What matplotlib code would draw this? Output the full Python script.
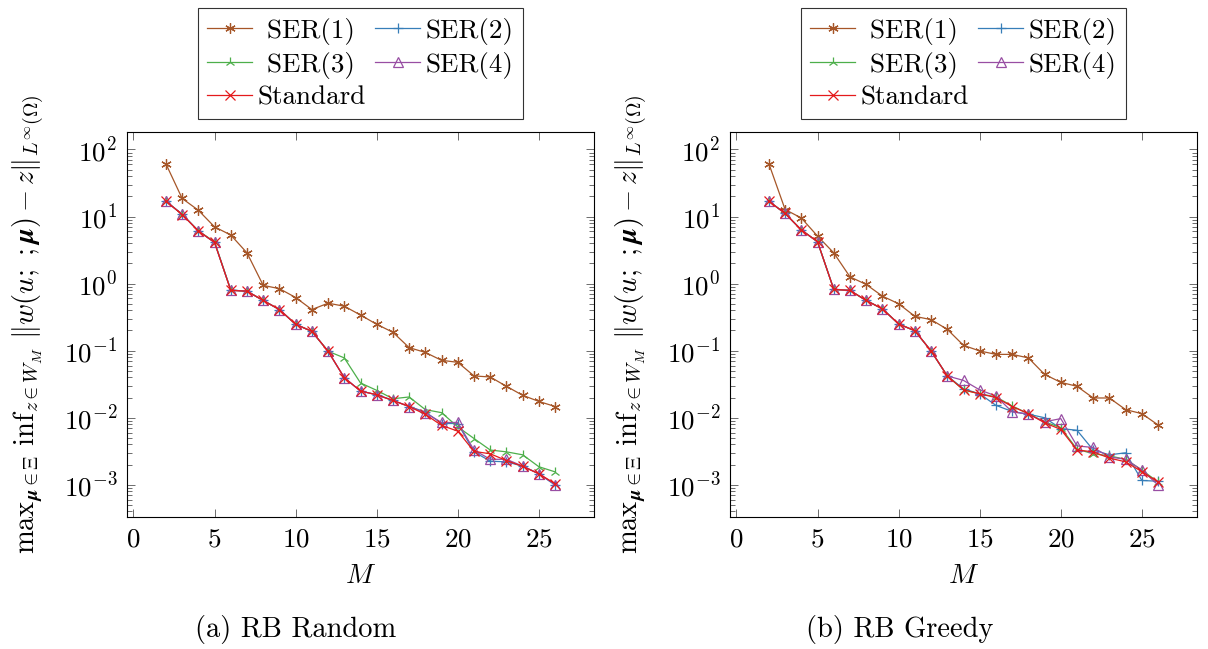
import numpy as np
import matplotlib
matplotlib.use("Agg")
import matplotlib.pyplot as plt
from matplotlib.ticker import LogLocator, NullFormatter

plt.rcParams["font.family"] = "cmr10"
plt.rcParams["mathtext.fontset"] = "cm"
plt.rcParams["axes.formatter.use_mathtext"] = True

M = list(range(2, 27))
LABELS = ["SER(1)", "SER(2)", "SER(3)", "SER(4)", "Standard"]

# (a) RB Random
rand_ser1 = [61, 18.6, 12.4, 7.0, 5.3, 2.87, 0.94, 0.84, 0.62, 0.41, 0.51, 0.46, 0.34,
             0.247, 0.188, 0.111, 0.094, 0.0718, 0.067, 0.042, 0.0405, 0.0294, 0.0216, 0.0175, 0.0147]
rand_ser2 = [16.9, 10.8, 6.1, 4.1, 0.80, 0.77, 0.56, 0.41, 0.247, 0.194, 0.098, 0.0395, 0.025,
             0.022, 0.0181, 0.0147, 0.0122, 0.0082, 0.0082, 0.0031, 0.00225, 0.0022, 0.0019, 0.00146, 0.00099]
rand_ser3 = [16.9, 10.8, 6.1, 4.2, 0.80, 0.77, 0.56, 0.41, 0.247, 0.194, 0.098, 0.078, 0.033,
             0.0256, 0.0192, 0.0204, 0.0132, 0.0119, 0.0073, 0.0049, 0.0033, 0.0031, 0.0028, 0.00186, 0.00156]
rand_ser4 = [16.9, 10.8, 6.1, 4.1, 0.80, 0.77, 0.56, 0.41, 0.247, 0.194, 0.098, 0.0395, 0.025,
             0.022, 0.0181, 0.0147, 0.0118, 0.0085, 0.0085, 0.0033, 0.0024, 0.0024, 0.0019, 0.00146, 0.00101]
rand_std = [16.9, 10.7, 6.1, 4.1, 0.79, 0.77, 0.56, 0.41, 0.247, 0.194, 0.098, 0.0395, 0.025,
            0.022, 0.0181, 0.0147, 0.0112, 0.0077, 0.0063, 0.00315, 0.0029, 0.0023, 0.00188, 0.00146, 0.00104]

# (b) RB Greedy
greedy_ser1 = [61, 12.7, 9.5, 5.1, 2.87, 1.26, 0.97, 0.65, 0.50, 0.325, 0.29, 0.208, 0.12,
               0.099, 0.088, 0.088, 0.078, 0.0443, 0.0337, 0.0294, 0.0197, 0.0197, 0.0132, 0.0115, 0.0078]
greedy_ser2 = [16.9, 11.1, 6.3, 4.2, 0.82, 0.79, 0.56, 0.42, 0.25, 0.198, 0.099, 0.042, 0.027,
               0.0227, 0.0153, 0.0124, 0.0113, 0.0100, 0.0069, 0.0065, 0.0033, 0.0028, 0.0030, 0.00116, 0.00113]
greedy_ser3 = [16.9, 11.1, 6.3, 4.2, 0.82, 0.79, 0.56, 0.42, 0.25, 0.198, 0.099, 0.042, 0.026,
               0.0227, 0.0205, 0.0150, 0.0115, 0.0087, 0.0071, 0.0034, 0.0029, 0.0027, 0.0024, 0.00166, 0.0011]
greedy_ser4 = [16.9, 11.1, 6.3, 4.2, 0.82, 0.79, 0.56, 0.42, 0.25, 0.198, 0.099, 0.042, 0.036,
               0.026, 0.0211, 0.0122, 0.0113, 0.0087, 0.0097, 0.0038, 0.0036, 0.0026, 0.0024, 0.00166, 0.00099]
greedy_std = [16.9, 11.1, 6.3, 4.2, 0.82, 0.79, 0.56, 0.42, 0.25, 0.198, 0.099, 0.042, 0.026,
              0.0227, 0.020, 0.0147, 0.0115, 0.0084, 0.0067, 0.0033, 0.0031, 0.0025, 0.0022, 0.00157, 0.0011]

COLORS = ["#a65628", "#377eb8", "#4daf4a", "#984ea3", "#e41a1c"]
MARKERS = [(6, 2, 0), "+", "2", "^", "x"]

YLAB = (r"$\mathrm{max}_{\boldsymbol{\mu}\in\Xi}\ \mathrm{inf}_{z\in W_M}\ "
        r"\|w(u;\ ;\boldsymbol{\mu})-z\|_{L^\infty(\Omega)}$")

fig = plt.figure(figsize=(12.08, 6.49), dpi=100)
W, H = 1208, 649
panels = [
    (127, 296, [rand_ser1, rand_ser2, rand_ser3, rand_ser4, rand_std], "(a) RB Random"),
    (730, 900, [greedy_ser1, greedy_ser2, greedy_ser3, greedy_ser4, greedy_std], "(b) RB Greedy"),
]
for left, capx, series, cap in panels:
    ax = fig.add_axes([left / W, 1 - 517 / H, 467 / W, 385 / H])
    handles = []
    for ys, c, m, lab in zip(series, COLORS, MARKERS, LABELS):
        kw = dict(markerfacecolor="none") if m == "^" else {}
        h, = ax.plot(M, ys, color=c, marker=m, lw=0.9, ms=7.5, mew=0.9, label=lab, **kw)
        handles.append(h)
    ax.set_yscale("log")
    ax.set_xlim(-0.4, 28.4)
    ax.set_ylim(10 ** -3.48, 10 ** 2.26)
    ax.set_xticks([0, 5, 10, 15, 20, 25])
    ax.yaxis.set_major_locator(LogLocator(base=10, numticks=12))
    ax.yaxis.set_minor_locator(LogLocator(base=10, subs=np.arange(2, 10), numticks=12))
    ax.yaxis.set_minor_formatter(NullFormatter())
    ax.tick_params(which="both", direction="in", top=True, right=True, labelsize=19.5,
                   width=0.6, color="#555555")
    ax.tick_params(axis="x", which="major", pad=8)
    ax.tick_params(axis="y", which="major", pad=7)
    ax.tick_params(which="major", length=6)
    ax.tick_params(which="minor", length=3.5)
    for s in ax.spines.values():
        s.set_linewidth(0.8)
    ax.set_xlabel(r"$M$", fontsize=20, labelpad=8)
    ax.set_ylabel(YLAB, fontsize=20.5)
    ax.yaxis.set_label_coords(-0.172, 0.5)
    order = [0, 2, 4, 1, 3]
    leg_labels = [" " + LABELS[i] if i in (0, 2) else LABELS[i] for i in order]
    leg = ax.legend([handles[i] for i in order], leg_labels,
                    ncol=2, loc="lower center", bbox_to_anchor=(0.5, 1.034),
                    fontsize=19.5, frameon=True, fancybox=False, edgecolor="black",
                    handlelength=1.67, handletextpad=0.2, columnspacing=0.33,
                    labelspacing=0.25, borderpad=0.35, borderaxespad=0)
    leg.get_frame().set_linewidth(0.8)
    fig.text(capx / W, 1 - 629 / H, cap, ha="center", va="center", fontsize=20.5)

fig.savefig("out.png", dpi=100)
